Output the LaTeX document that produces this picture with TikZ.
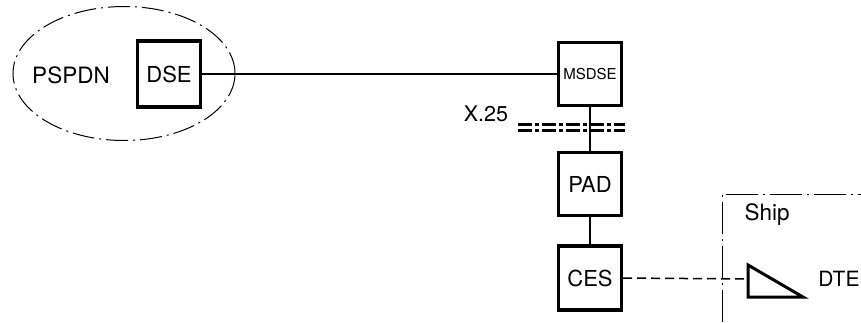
\documentclass[tikz,border=0pt]{standalone}
\usepackage{fontspec}
\setmainfont{TeX Gyre Heros}
\usetikzlibrary{shapes.geometric}
\newcommand{\BoxSize}{63pt}
\tikzset{ThickSquare/.style={
    inner sep=0pt,
    minimum size=\BoxSize,
    draw=black,
    line width=3.4pt,
    font=\fontsize{22}{25}\selectfont,
    align=center
    }
}
\tikzset{SmallSquare/.style={
    ThickSquare,
    font=\fontsize{15}{17}\selectfont
    }
}
\tikzset{Label/.style={
    inner sep=0pt,
    font=\fontsize{22.5}{25}\selectfont
    }
}
\tikzset{DashDot/.style={
    line width=1pt,
    dash pattern=on 22pt off 5pt on 2pt off 5pt
    }
}

\begin{document}
\begin{tikzpicture}[x=1pt, y=-1pt, line width=1.5pt, node distance=100pt]
    \useasboundingbox (0,0) rectangle (861,322);

    % public network
    \node (net) [ellipse, draw, DashDot, minimum width=222pt, minimum height=134pt] at (124,73.5) {};
    \node (PSPDN) [Label] at (71,75) {PSPDN};
    \node (DSE) [ThickSquare, minimum height=66pt] at (169,74) {DSE};

    % shore side
    \node (MSDSE) [SmallSquare] at (590,74) {MSDSE};
    \node (PAD) [ThickSquare, below of=MSDSE, yshift=-10pt] {PAD};
    \node (CES) [ThickSquare, below of=PAD, yshift=6pt, minimum height=64pt] {CES};

    \draw (DSE.east) -- (MSDSE.west);
    \draw (MSDSE.south) -- (PAD.north);
    \draw (PAD.south) -- (CES.north);

    % X.25 interface
    \node (X25) [Label, font=\fontsize{21.5}{24}\selectfont] at (486,114) {X.25};
    \draw [line width=2.8pt, dash pattern=on 14pt off 3pt on 4pt off 3pt] (518,124.5) -- (625,124.5);
    \draw [line width=2.8pt, dash pattern=on 14pt off 3pt on 4pt off 3pt] (518,130.5) -- (625,130.5);

    % ship
    \coordinate (ShipBot) at (722,322);
    \coordinate (ShipCorner) at (722,194);
    \coordinate (ShipEnd) at (861,194);
    \draw [DashDot, dash pattern=on 32pt off 5pt on 2pt off 5pt] (ShipBot) -- (ShipCorner) -- (ShipEnd);
    \node (Ship) [Label] at (767,215) {Ship};

    \coordinate (t1) at (748,265);
    \coordinate (t2) at (748,297);
    \coordinate (t3) at (803,297);
    \draw [line width=3pt, line join=miter] (t1) -- (t2) -- (t3) -- cycle;
    \coordinate (DTEin) at (748,279);
    \node (DTE) [Label, font=\fontsize{21}{24}\selectfont] at (839,279) {DTE};

    \draw [dash pattern=on 9pt off 5pt] (CES.east) -- (DTEin);
\end{tikzpicture}
\end{document}
